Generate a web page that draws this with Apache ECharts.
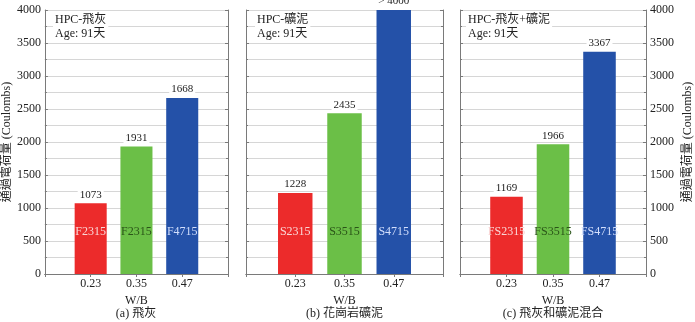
<!DOCTYPE html>
<html>
<head>
<meta charset="utf-8">
<script src="https://cdn.jsdelivr.net/npm/echarts@6/dist/echarts.min.js"></script>
<style>
  html, body { margin: 0; padding: 0; background: #fff; }
  #chart { width: 695px; height: 322px; }
</style>
</head>
<body>
<div id="chart"></div>
<script>
// W/B categories (blank slots at both ends give the side padding)
const wbLabels = ['0.23', '0.35', '0.47']

// (a) fly ash
const flyAshValues = [1073, 1931, 2668]
const flyAshTexts = ['1073', '1931', '1668']
const flyAshCodes = ['F2315', 'F2315', 'F4715']
// (b) granite slag
const slagValues = [1228, 2435, 4000]
const slagTexts = ['1228', '2435', '> 4000']
const slagCodes = ['S2315', 'S3515', 'S4715']
// (c) mix
const mixValues = [1169, 1966, 3367]
const mixTexts = ['1169', '1966', '3367']
const mixCodes = ['FS2315', 'FS3515', 'FS4715']

const panelTitles = ['HPC-飛灰', 'HPC-礦泥', 'HPC-飛灰+礦泥']
const captions = ['(a) 飛灰', '(b) 花崗岩礦泥', '(c) 飛灰和礦泥混合']
const yName = '通過電荷量 (Coulombs)'

const barColors = ['#ec2b2b', '#6bbf47', '#2451a8']
const codeColors = ['#f9d6d6', '#2a5418', '#d2defc']
const FONT = "'Liberation Serif', 'Noto Sans CJK TC', serif"
const LINE = '#7a7a7a'
const GRIDLINE = '#d6d6d6'

const grids = [
  { left: 44, top: 10, width: 184, height: 264 },
  { left: 246, top: 10, width: 197, height: 264 },
  { left: 460, top: 10, width: 186, height: 264 },
]
const panelData = [
  { values: flyAshValues, texts: flyAshTexts, codes: flyAshCodes },
  { values: slagValues, texts: slagTexts, codes: slagCodes },
  { values: mixValues, texts: mixTexts, codes: mixCodes },
]

const cats = ['', ...wbLabels, '']

function xAxes(i) {
  const base = {
    type: 'category', gridIndex: i, data: cats, boundaryGap: false,
    axisLine: { show: true, lineStyle: { color: LINE } },
    axisTick: { show: true, inside: true, length: 3, lineStyle: { color: LINE } },
  }
  return [
    {
      ...base, position: 'bottom',
      axisLabel: { interval: 0, color: '#222', fontSize: 12, fontFamily: FONT, margin: 4 },
      name: 'W/B', nameLocation: 'middle', nameGap: 18,
      nameTextStyle: { color: '#222', fontSize: 12, fontFamily: FONT },
    },
    { ...base, position: 'top', axisLabel: { show: false } },
  ]
}

function yAxes(i) {
  const side = i === 2 ? 'right' : 'left'
  const base = {
    type: 'value', gridIndex: i, min: 0, max: 4000, interval: 500,
    axisLine: { show: true, lineStyle: { color: LINE } },
    axisTick: { show: true, inside: true, length: 3, lineStyle: { color: LINE } },
    minorTick: { show: true, splitNumber: 2, length: 2, lineStyle: { color: LINE } },
  }
  const main = {
    ...base, position: side,
    splitLine: { show: true, lineStyle: { color: GRIDLINE } },
    minorSplitLine: { show: true, lineStyle: { color: GRIDLINE } },
    axisLabel: {
      show: i !== 1, color: '#222', fontSize: 12, fontFamily: FONT, margin: 4,
      formatter: v => String(v),
    },
  }
  if (i !== 1) {
    main.name = yName
    main.nameLocation = 'middle'
    main.nameGap = i === 2 ? 36 : 29
    main.nameTextStyle = { color: '#222', fontSize: 12, fontFamily: FONT }
  }
  const mirror = {
    ...base, position: side === 'left' ? 'right' : 'left',
    splitLine: { show: false }, axisLabel: { show: false },
  }
  return [main, mirror]
}

function barSeries(i) {
  const d = panelData[i]
  const items = d.values.map((v, k) => ({ value: v, itemStyle: { color: barColors[k] } }))
  return [
    {
      type: 'bar', xAxisIndex: 2 * i, yAxisIndex: 2 * i, barWidth: '70%',
      data: ['-', ...items, '-'],
      label: {
        show: true, position: 'top', distance: 3,
        color: '#222', fontSize: 11, fontFamily: FONT,
        backgroundColor: '#fff', padding: [0, 2],
        formatter: p => d.texts[p.dataIndex - 1],
      },
    },
    {
      type: 'bar', xAxisIndex: 2 * i, yAxisIndex: 2 * i, barWidth: '70%', barGap: '-100%',
      data: ['-', ...d.values.map((v, k) => ({
        value: v,
        label: { color: codeColors[k] },
      })), '-'],
      itemStyle: { color: 'rgba(0,0,0,0)' },
      label: {
        show: true, position: 'insideBottom', distance: 36,
        fontSize: 12, fontFamily: FONT,
        formatter: p => d.codes[p.dataIndex - 1],
      },
      z: 3,
    },
  ]
}

const graphics = []
grids.forEach((g, i) => {
  graphics.push({
    type: 'text', left: g.left + (i === 2 ? 6 : 9), top: 13, z: 10,
    style: {
      text: panelTitles[i] + '\nAge: 91天',
      fill: '#222', fontSize: 12, fontFamily: FONT, lineHeight: 14,
      backgroundColor: '#fff', padding: [0, 2],
    },
  })
  graphics.push({
    type: 'text', x: g.left + g.width / 2, y: 314,
    style: {
      text: captions[i], fill: '#222', fontSize: 12, fontFamily: FONT,
      align: 'center', verticalAlign: 'middle',
    },
  })
})

const chart = echarts.init(document.getElementById('chart'))
chart.setOption({
  animation: false,
  grid: grids.map(g => ({ ...g, show: false })),
  xAxis: [0, 1, 2].flatMap(xAxes),
  yAxis: [0, 1, 2].flatMap(yAxes),
  series: [0, 1, 2].flatMap(barSeries),
  graphic: graphics,
})
</script>
</body>
</html>
